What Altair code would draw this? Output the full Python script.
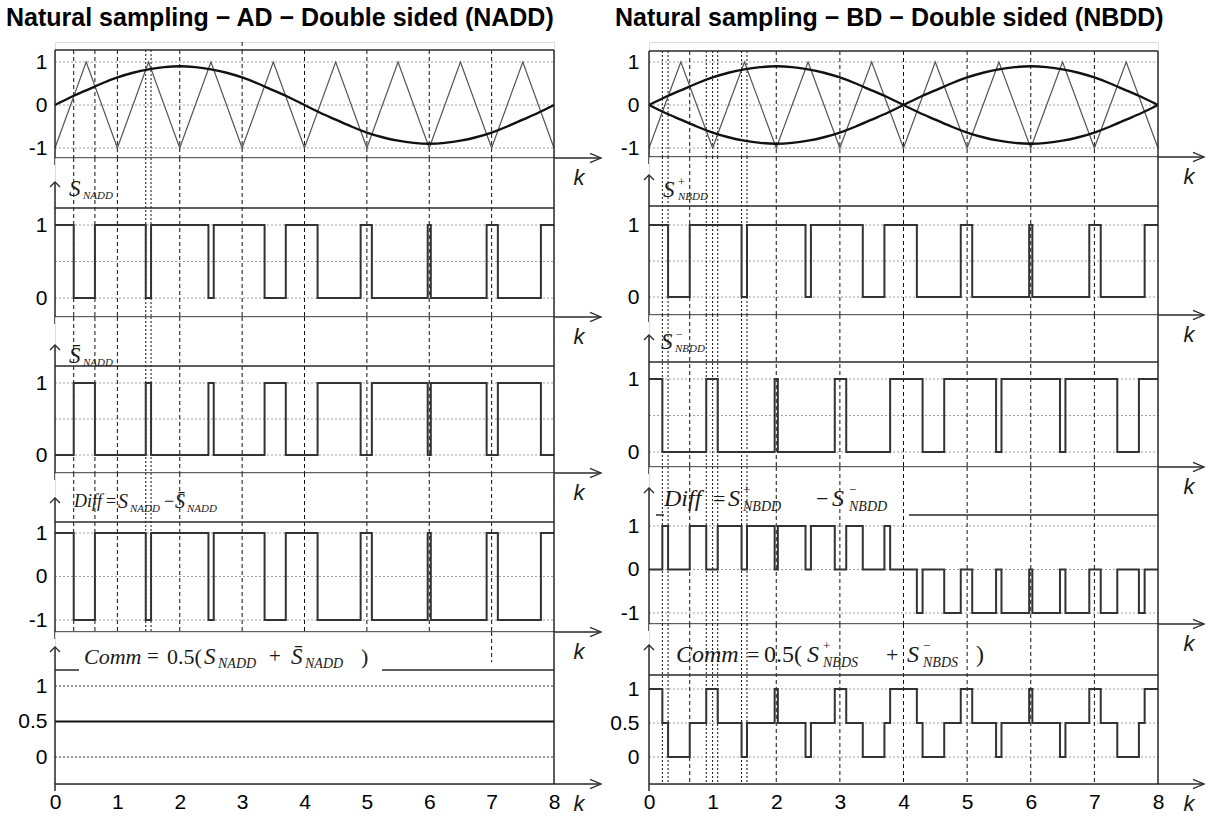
import altair as alt
import pandas as pd

# ------------------------------------------------------------------
# Values
# ------------------------------------------------------------------
k_ticks = [0, 1, 2, 3, 4, 5, 6, 7, 8]

# triangular carrier (vertices)
carrier_k = [0, 0.5, 1, 1.5, 2, 2.5, 3, 3.5, 4, 4.5, 5, 5.5, 6, 6.5, 7, 7.5, 8]
carrier_v = [-1, 1, -1, 1, -1, 1, -1, 1, -1, 1, -1, 1, -1, 1, -1, 1, -1]

# reference (modulating) wave
ref_k = [0, 0.25, 0.5, 0.75, 1, 1.25, 1.5, 1.75, 2, 2.25, 2.5, 2.75, 3, 3.25, 3.5, 3.75, 4,
         4.25, 4.5, 4.75, 5, 5.25, 5.5, 5.75, 6, 6.25, 6.5, 6.75, 7, 7.25, 7.5, 7.75, 8]
ref_v = [0.00, 0.18, 0.34, 0.50, 0.64, 0.75, 0.83, 0.88, 0.90, 0.88, 0.83, 0.75, 0.64, 0.50, 0.34, 0.18, 0.00,
         -0.18, -0.34, -0.50, -0.64, -0.75, -0.83, -0.88, -0.90, -0.88, -0.83, -0.75, -0.64, -0.50, -0.34, -0.18, 0.00]

# switching instants of S (= S+) and of S-, both start at level 1
s_start = 1
s_plus_edges = [0.30, 0.64, 1.455, 1.54, 2.46, 2.545, 3.36, 3.70, 4.21, 4.90, 5.08, 5.975, 6.025, 6.92, 7.10, 7.79]
s_minus_edges = [0.21, 0.90, 1.08, 1.975, 2.025, 2.92, 3.10, 3.79, 4.30, 4.64, 5.455, 5.54, 6.46, 6.545, 7.36, 7.70]
comm_left_level = 0.5

# vertical guide lines (k)
guides_left_dashed = [0.30, 0.64, 1, 2, 3, 4, 5, 6, 7]
guides_left_dotted = [1.455, 1.54]
guides_right_dashed = [0.64, 2, 3, 4, 5, 6, 7]
guides_right_dotted = [0.21, 0.30, 0.90, 1.0, 1.08, 1.455, 1.54]

SANS = "Liberation Sans"
SERIF = "Liberation Serif"
SIG = "#333333"
INK = "#2a2a2a"


def steps(start, edges, end=8):
    xs, ys, lvl = [0], [start], start
    for e in edges:
        lvl = 1 - lvl
        xs.append(e)
        ys.append(lvl)
    xs.append(end)
    ys.append(lvl)
    return pd.DataFrame({"x": xs, "y": ys})


def level(start, edges, x):
    n = sum(1 for e in edges if e <= x)
    return start if n % 2 == 0 else 1 - start


def combined(fn, end=8):
    pts = sorted(set([0] + s_plus_edges + s_minus_edges))
    ys = [fn(level(s_start, s_plus_edges, p), level(s_start, s_minus_edges, p)) for p in pts]
    return pd.DataFrame({"x": pts + [end], "y": ys + [ys[-1]]})


sig_S = steps(s_start, s_plus_edges)
sig_Sbar = sig_S.assign(y=1 - sig_S["y"])
sig_Diff_L = sig_S.assign(y=sig_S["y"] - sig_Sbar["y"])
sig_Comm_L = pd.DataFrame({"x": [0, 8], "y": [comm_left_level, comm_left_level]})
sig_Sm = steps(s_start, s_minus_edges)
sig_Diff_R = combined(lambda a, b: a - b)
sig_Comm_R = combined(lambda a, b: 0.5 * (a + b))
carrier = pd.DataFrame({"x": carrier_k, "y": carrier_v})
ref_pos = pd.DataFrame({"x": ref_k, "y": ref_v})
ref_neg = pd.DataFrame({"x": ref_k, "y": [-v for v in ref_v]})

# ------------------------------------------------------------------
# Layout (pixel positions of the drawing)
# ------------------------------------------------------------------
COLS = {
    "L": dict(x0=54, x8=553, tip=600, kx=578, lpad=8, title_x=5,
              title="Natural sampling \u2212 AD \u2212 Double sided (NADD)"),
    "R": dict(x0=648, x8=1157, tip=1203, kx=1188, lpad=10, title_x=614,
              title="Natural sampling \u2212 BD \u2212 Double sided (NBDD)"),
}

carrier_sig = (carrier, "#555555", 1.2, "linear")
LG = dict(dash=guides_left_dashed, dot=guides_left_dotted)
RG = dict(dash=guides_right_dashed, dot=guides_right_dotted)

LEFT = [
    dict(top=42, border=50, hi=(62, 1), lo=(148, -1), axis=158, labels=[1, 0, -1], grid=[1, 0, -1],
         first=True, signals=[carrier_sig, (ref_pos, "#111111", 2.4, "natural")],
         g_from=50, extra=[(3, 42, 50)], text=[], **LG),
    dict(top=158, border=208, hi=(225, 1), lo=(298, 0), axis=317, arrow=182, labels=[1, 0], grid=[1, 0.5, 0],
         signals=[(sig_S, SIG, 2, "step-after")],
         text=[(68, 189, "S", 23, True), (82, 196, "NADD", 11, True)], **LG),
    dict(top=317, border=366, hi=(383, 1), lo=(455, 0), axis=473, arrow=345, labels=[1, 0], grid=[1, 0.5, 0],
         signals=[(sig_Sbar, SIG, 2, "step-after")],
         text=[(68, 356, "S\u0304", 23, True), (82, 363, "NADD", 11, True)], **LG),
    dict(top=473, border=522, hi=(533, 1), lo=(620, -1), axis=632, arrow=498, labels=[1, 0, -1], grid=[1, 0, -1],
         signals=[(sig_Diff_L, SIG, 2, "step-after")],
         text=[(73, 502, "Diff", 18, True), (105, 502, "=", 18, False), (117, 502, "S", 20, True),
               (129, 509, "NADD", 11, True), (163, 502, "\u2212", 18, False), (174, 502, "S\u0304", 20, True),
               (186, 509, "NADD", 11, True)], **LG),
    dict(top=632, border=670, border_segs=[(54, 78), (381, 553)], hi=(686, 1), lo=(757, 0), axis=784, arrow=647,
         labels=[1, 0.5, 0], grid=[1, 0], grid_color="#777777", bottom=True,
         signals=[(sig_Comm_L, "#111111", 2.2, "linear")],
         dash=[], dot=[], extra=[(7, 632, 662)],
         text=[(83, 657, "Comm", 22, True), (146, 657, "=", 21, False), (166, 657, "0.5(", 22, False),
               (203, 657, "S", 23, True), (217, 664, "NADD", 14, True), (268, 657, "+", 21, False),
               (290, 657, "S\u0304", 23, True), (304, 664, "NADD", 14, True), (360, 657, ")", 22, False)]),
]

RIGHT = [
    dict(top=42, border=51, hi=(62, 1), lo=(148, -1), axis=157, labels=[1, 0, -1], grid=[1, 0, -1],
         first=True, signals=[carrier_sig, (ref_pos, "#111111", 2.4, "natural"),
                              (ref_neg, "#111111", 2.4, "natural")],
         g_from=51, text=[], **RG),
    dict(top=157, border=206, hi=(225, 1), lo=(297, 0), axis=315, arrow=175, labels=[1, 0], grid=[1, 0.5, 0],
         signals=[(sig_S, SIG, 2, "step-after")],
         text=[(662, 190, "S", 23, True), (677, 182, "+", 12, False), (677, 197, "NBDD", 11, True)], **RG),
    dict(top=315, border=362, hi=(379, 1), lo=(452, 0), axis=467, arrow=335, labels=[1, 0], grid=[1, 0.5, 0],
         signals=[(sig_Sm, SIG, 2, "step-after")],
         text=[(660, 342, "S", 23, True), (675, 334, "\u2212", 12, False), (674, 349, "NBDD", 11, True)], **RG),
    dict(top=467, border=515, border_segs=[(655, 663), (908, 1157)], hi=(526, 1), lo=(613, -1), axis=624,
         arrow=488, labels=[1, 0, -1], grid=[1, 0, -1],
         signals=[(sig_Diff_R, SIG, 2, "step-after")],
         text=[(663, 499, "Diff", 24, True), (712, 499, "=", 22, False), (727, 499, "S", 24, True),
               (742, 490, "+", 13, False), (742, 507, "NBDD", 14, True), (815, 499, "\u2212", 22, False),
               (831, 499, "S", 24, True), (848, 490, "\u2212", 13, False), (848, 507, "NBDD", 14, True)], **RG),
    dict(top=624, border=675, hi=(689, 1), lo=(757, 0), axis=784, arrow=645, labels=[1, 0.5, 0],
         grid=[1, 0.5, 0], bottom=True,
         signals=[(sig_Comm_R, SIG, 2, "step-after")],
         text=[(675, 655, "Comm", 24, True), (746, 655, "=", 22, False), (763, 655, "0.5(", 24, False),
               (806, 655, "S", 24, True), (822, 646, "+", 13, False), (822, 663, "NBDS", 14, True),
               (885, 655, "+", 22, False), (906, 655, "S", 24, True), (922, 646, "\u2212", 13, False),
               (922, 663, "NBDS", 14, True), (975, 655, ")", 24, False)], **RG),
]


def build_panel(col, spec):
    c = COLS[col]
    x0, x8 = c["x0"], c["x8"]
    ppx = (x8 - x0) / 8.0
    (hpx, hv), (lpx, lv) = spec["hi"], spec["lo"]
    ppu = (lpx - hpx) / (hv - lv)

    def Y(px):
        return hv + (hpx - px) / ppu

    def Xp(px):
        return (px - x0) / ppx

    ymin, ymax = Y(spec["axis"]), Y(spec["top"])
    xs = alt.Scale(domain=[0, 8], nice=False, zero=False)
    ys = alt.Scale(domain=[ymin, ymax], nice=False, zero=False)
    if spec.get("bottom"):
        xax = alt.Axis(values=k_ticks, labelExpr="datum.value + ''", domain=False, ticks=False, grid=False,
                       labelFont=SANS, labelFontSize=21, labelColor="black", labelPadding=7,
                       labelFlush=False, labelOverlap=False, title=None)
    else:
        xax = None
    yax = alt.Axis(values=spec["labels"], labelExpr="datum.value + ''", domain=False, ticks=False, grid=False,
                   labelFont=SANS, labelFontSize=21, labelColor="black", labelPadding=c["lpad"],
                   labelOverlap=False, title=None)

    def enc(**extra):
        e = {"x": alt.X("x:Q", scale=xs, axis=xax), "y": alt.Y("y:Q", scale=ys, axis=yax)}
        e.update(extra)
        return e

    def segs(rows, color, width, dash=None):
        df = pd.DataFrame(rows, columns=["x", "x2", "y", "y2"])
        kw = dict(color=color, strokeWidth=width)
        if dash:
            kw["strokeDash"] = dash
        return alt.Chart(df).mark_rule(**kw).encode(**enc(x2=alt.X2("x2:Q"), y2=alt.Y2("y2:Q")))

    layers = []
    # dotted grid
    layers.append(segs([(0, 8, g, g) for g in spec["grid"]], spec.get("grid_color", "#a0a0a0"),
                       1.3 if "grid_color" in spec else 1, [2, 2]))
    # guides
    g_from = Y(spec.get("g_from", spec["top"]))
    if spec["dash"]:
        layers.append(segs([(g, g, g_from, ymin) for g in spec["dash"]], "#111111", 1, [4, 3]))
    if spec["dot"]:
        layers.append(segs([(g, g, g_from, ymin) for g in spec["dot"]], "#111111", 1, [2, 2]))
    if spec.get("extra"):
        layers.append(segs([(g, g, Y(a), Y(b)) for g, a, b in spec["extra"]], "#111111", 1, [4, 3]))
    # signals
    for df, color, width, interp in spec["signals"]:
        layers.append(alt.Chart(df).mark_line(color=color, strokeWidth=width, interpolate=interp)
                      .encode(**enc()))
    # frame
    yb = Y(spec["border"])
    frame = []
    for a, b in spec.get("border_segs", [(x0, x8)]):
        frame.append((Xp(a), Xp(b), yb, yb))
    if spec.get("first"):
        frame.append((8, 8, yb, ymin))
        frame.append((0, 0, yb, Y(spec["axis"] + 7)))
    else:
        frame.append((8, 8, ymax, ymin))
        frame.append((0, 0, Y(spec["arrow"]), Y(spec["axis"] + 7)))
    frame.append((0, Xp(c["tip"]), ymin, ymin))
    layers.append(segs(frame, INK, 1.5))
    # arrows
    layers.append(alt.Chart(pd.DataFrame({"x": [Xp(c["tip"])], "y": [ymin]}))
                  .mark_point(shape="M-1,-0.42L0,0L-1,0.42", size=484, filled=False, color=INK,
                              strokeWidth=1.3, opacity=1).encode(**enc()))
    if not spec.get("first"):
        layers.append(alt.Chart(pd.DataFrame({"x": [0], "y": [Y(spec["arrow"])]}))
                      .mark_point(shape="M-1,1L0,0L1,1", size=100, filled=False, color=INK,
                                  strokeWidth=1.3, opacity=1).encode(**enc()))
    # math labels
    for italic in (True, False):
        rows = [(Xp(px), Y(py), t, fs) for px, py, t, fs, it in spec["text"] if it == italic]
        if rows:
            df = pd.DataFrame(rows, columns=["x", "y", "t", "fs"])
            layers.append(alt.Chart(df).mark_text(font=SERIF, fontStyle="italic" if italic else "normal",
                                                  align="left", baseline="middle", color="#1a1a1a")
                          .encode(**enc(text="t:N", size=alt.Size("fs:Q", scale=None))))
    # k label
    layers.append(alt.Chart(pd.DataFrame({"x": [Xp(c["kx"])], "y": [Y(spec["axis"] + 20)], "t": ["k"]}))
                  .mark_text(font=SANS, fontStyle="italic", fontSize=22, align="center", baseline="middle",
                             color="#1a1a1a").encode(**enc(text="t:N")))
    # title
    if spec.get("first"):
        layers.append(alt.Chart(pd.DataFrame({"x": [Xp(c["title_x"])], "y": [Y(18)], "t": [c["title"]]}))
                      .mark_text(font=SANS, fontWeight="bold", fontSize=25, align="left", baseline="middle",
                                 color="black").encode(**enc(text="t:N")))
    return alt.layer(*layers).properties(width=x8 - x0, height=spec["axis"] - spec["top"])


left = alt.vconcat(*[build_panel("L", s) for s in LEFT], spacing=0, bounds="flush")
right = alt.vconcat(*[build_panel("R", s) for s in RIGHT], spacing=0, bounds="flush")

# with flush bounds the column groups are placed by their origins: 648 - 54
chart = (
    alt.hconcat(left, right, spacing=594, bounds="flush")
    .properties(padding={"left": 5, "top": 5, "right": 0, "bottom": 0})
    .configure_view(stroke=None)
    .configure(background="white")
)

chart.save("out.html", embed_options={"renderer": "svg", "actions": False})
